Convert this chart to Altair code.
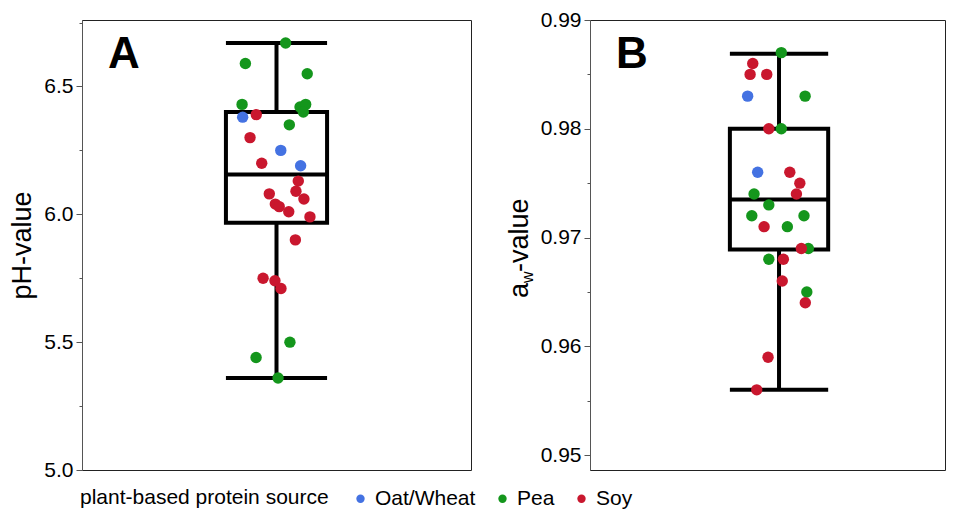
import altair as alt
import pandas as pd

SOURCES = ["Oat/Wheat", "Pea", "Soy"]
COLORS = ["#4472E2", "#14961C", "#C9172E"]
FONT = "Liberation Sans"
BOX_HALF = 0.26

# ---- Panel A: pH-value ----
ph_source = ["Oat/Wheat"] * 3 + ["Pea"] * 11 + ["Soy"] * 15
ph_value = [6.38, 6.25, 6.19,
            6.67, 6.59, 6.55, 6.43, 6.42, 6.43, 6.40, 6.35, 5.50, 5.44, 5.36,
            6.39, 6.30, 6.20, 6.13, 6.08, 6.09, 6.06, 6.04, 6.03, 6.01, 5.99, 5.90, 5.75, 5.74, 5.71]
ph_jitter = [-0.174, 0.022, 0.124,
             0.047, -0.160, 0.158, -0.177, 0.121, 0.150, 0.138, 0.066, 0.069, -0.105, 0.008,
             -0.104, -0.136, -0.076, 0.112, -0.037, 0.100, 0.141, -0.006, 0.014, 0.063, 0.172, 0.097, -0.069, -0.008, 0.023]
ph_stats = [5.36, 5.967, 6.156, 6.40, 6.67]   # lo, q1, median, q3, hi
ph_domain = [5.0, 6.76]
ph_major = [5.0, 5.5, 6.0, 6.5]
ph_minor = [5.25, 5.75, 6.25, 6.75]

# ---- Panel B: aw-value ----
aw_source = ["Oat/Wheat"] * 2 + ["Pea"] * 11 + ["Soy"] * 14
aw_value = [0.983, 0.976,
            0.987, 0.983, 0.980, 0.974, 0.973, 0.972, 0.972, 0.971, 0.969, 0.968, 0.965,
            0.986, 0.985, 0.985, 0.980, 0.976, 0.975, 0.974, 0.971, 0.969, 0.968, 0.966, 0.964, 0.959, 0.956]
aw_jitter = [-0.166, -0.113,
             0.012, 0.138, 0.012, -0.132, -0.054, -0.144, 0.132, 0.044, 0.155, -0.054, 0.147,
             -0.139, -0.153, -0.065, -0.054, 0.057, 0.110, 0.092, -0.079, 0.118, 0.023, 0.017, 0.139, -0.058, -0.118]
aw_stats = [0.956, 0.9689, 0.9735, 0.980, 0.9869]
aw_domain = [0.94863, 0.99]
aw_major = [0.95, 0.96, 0.97, 0.98, 0.99]
aw_minor = [0.955, 0.965, 0.975, 0.985]


def panel(src, vals, jit, stats, domain, major, minor, fmt, width, xdom, letter, ytitle):
    pts = pd.DataFrame({"source": src, "value": vals, "jitter": jit})
    st = pd.DataFrame([{"lo": stats[0], "q1": stats[1], "med": stats[2], "q3": stats[3],
                        "hi": stats[4], "xl": -BOX_HALF, "xr": BOX_HALF, "xc": 0.0}])
    xs = alt.Scale(domain=xdom)
    ys = alt.Scale(domain=domain, nice=False, zero=False)
    axis_kw = dict(orient="left", values=major, format=fmt, tickSize=6, labelFontSize=21,
                   labelPadding=3, grid=False, titleFontSize=27, titleFontWeight="normal",
                   titlePadding=7, domainColor="#555", tickColor="#555", labelColor="black",
                   titleColor="black", tickWidth=1, domainWidth=1)
    if ytitle:
        axis_kw["title"] = ytitle
    else:
        axis_kw["title"] = None
    major_axis = alt.Axis(**axis_kw)
    minor_axis = alt.Axis(orient="left", values=minor, labels=False, tickSize=3, domain=False,
                          grid=False, title=None, tickColor="#555", tickWidth=1)
    base = alt.Chart(st)
    box = base.mark_rect(fill="white", stroke="black", strokeWidth=4).encode(
        x=alt.X("xl:Q", scale=xs, axis=None), x2="xr",
        y=alt.Y("q1:Q", scale=ys, axis=major_axis), y2="q3")
    wup = base.mark_rule(color="black", strokeWidth=4).encode(
        x=alt.X("xc:Q", scale=xs, axis=None),
        y=alt.Y("q3:Q", scale=ys, axis=minor_axis), y2="hi")
    wdn = base.mark_rule(color="black", strokeWidth=4).encode(
        x=alt.X("xc:Q", scale=xs, axis=None),
        y=alt.Y("lo:Q", scale=ys, axis=None), y2="q1")
    hlines = base.transform_fold(["lo", "med", "hi"], as_=["stat", "v"]).mark_rule(
        color="black", strokeWidth=4).encode(
        x=alt.X("xl:Q", scale=xs, axis=None), x2="xr",
        y=alt.Y("v:Q", scale=ys, axis=None))
    points = alt.Chart(pts).mark_circle(size=130, opacity=1).encode(
        x=alt.X("jitter:Q", scale=xs, axis=None),
        y=alt.Y("value:Q", scale=ys, axis=None),
        color=alt.Color("source:N", scale=alt.Scale(domain=SOURCES, range=COLORS),
                        legend=alt.Legend(title="plant-based protein source", orient="none",
                                          legendX=-2, legendY=468, direction="horizontal",
                                          titleOrient="left", titleFontSize=21,
                                          titleFontWeight="normal", labelFontSize=21,
                                          titleLimit=400, labelLimit=200,
                                          symbolType="circle", symbolSize=70,
                                          symbolStrokeWidth=0, titlePadding=21,
                                          columnPadding=16, labelOffset=4,
                                          titleBaseline="middle", titleColor="black",
                                          labelColor="black")))
    lab = base.mark_text(text=letter, align="left", baseline="alphabetic", fontSize=44,
                         fontWeight="bold", color="black", font=FONT).encode(
        x=alt.value(26), y=alt.value(48))
    layers = [box, wup, wdn, hlines, points, lab]
    if not ytitle:
        t1 = base.mark_text(text="a", angle=270, align="left", baseline="alphabetic",
                            fontSize=27, color="black", font=FONT).encode(
            x=alt.value(-62), y=alt.value(278))
        t2 = base.mark_text(text="w", angle=270, align="left", baseline="alphabetic",
                            fontSize=16, color="black", font=FONT).encode(
            x=alt.value(-57), y=alt.value(263))
        t3 = base.mark_text(text="-value", angle=270, align="left", baseline="alphabetic",
                            fontSize=27, color="black", font=FONT).encode(
            x=alt.value(-62), y=alt.value(252))
        layers += [t1, t2, t3]
    return alt.layer(*layers).resolve_scale(y="shared").resolve_axis(y="independent").properties(
        width=width, height=450)


left = panel(ph_source, ph_value, ph_jitter, ph_stats, ph_domain, ph_major, ph_minor,
             ".1f", 389, [-1, 1], "A", "pH-value")
right = panel(aw_source, aw_value, aw_jitter, aw_stats, aw_domain, aw_major, aw_minor,
              ".2f", 355, [-1, 0.878], "B", None)

chart = alt.hconcat(left, right, spacing=33).properties(
    padding={"left": 0, "top": 0, "right": 0, "bottom": 0}
).configure(font=FONT).configure_view(stroke="#222", strokeWidth=1)

chart.save("out.html", embed_options={"renderer": "svg", "actions": False})
